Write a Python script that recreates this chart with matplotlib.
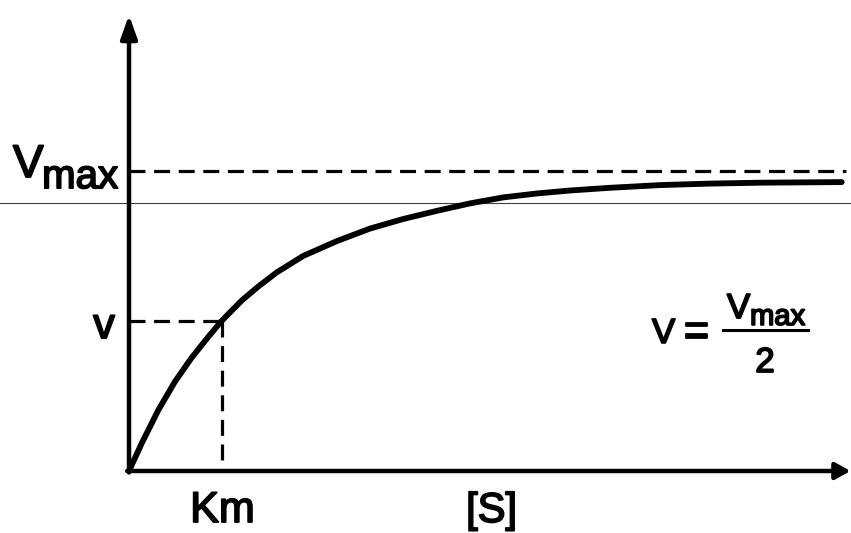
import matplotlib.pyplot as plt
from matplotlib import patheffects

# Substrate concentration (in units of Km) and reaction velocity (in units of Vmax)
s_conc = [0.0, 0.137, 0.317, 0.497, 0.678, 0.857, 1.0, 1.218, 1.398, 1.597,
          1.884, 2.245, 2.605, 2.965, 3.326, 3.686, 4.046, 4.407, 4.768,
          5.200, 5.741, 6.281, 6.822, 7.705]
velocity = [0.0, 0.092, 0.203, 0.298, 0.378, 0.447, 0.5, 0.568, 0.615, 0.662,
            0.717, 0.766, 0.808, 0.840, 0.867, 0.892, 0.912, 0.925, 0.935,
            0.944, 0.953, 0.958, 0.961, 0.963]

v_max = 1.0
k_m = 1.0
v_half = v_max / 2

x_end = 7.80
y_end = 1.52

plt.rcParams['font.family'] = ['Liberation Sans', 'DejaVu Sans']
thick = [patheffects.withStroke(linewidth=1.3, foreground='black')]

fig = plt.figure(figsize=(8.51, 5.33), dpi=100)
ax = fig.add_axes([0, 0, 1, 1])
ax.set_xlim(-1.3946, 7.8054)
ax.set_ylim(-0.2067, 1.57)
ax.axis('off')

# faint guide line running across the page
ax.axhline(0.892, color='0.25', lw=0.8, zorder=1)

# axes with arrow heads
ax.annotate('', xy=(0, y_end), xytext=(0, -0.005),
            arrowprops=dict(arrowstyle='-|>,head_length=14,head_width=5',
                            mutation_scale=1, lw=3.2, color='black',
                            shrinkA=0, shrinkB=0))
ax.annotate('', xy=(x_end, 0), xytext=(-0.02, 0),
            arrowprops=dict(arrowstyle='-|>,head_length=9,head_width=5',
                            mutation_scale=1, lw=3.2, color='black',
                            shrinkA=0, shrinkB=0))

# reference dashed lines
dash = dict(color='black', lw=2.3, dashes=(5, 2.7), zorder=2)
ax.plot([0, x_end - 0.05], [v_max, v_max], **dash)
ax.plot([0, k_m], [v_half, v_half], **dash)
ax.plot([k_m, k_m], [v_half, 0], **dash)

# saturation curve
ax.plot(s_conc, velocity, color='black', lw=4.2, solid_capstyle='round',
        solid_joinstyle='round', zorder=3)

# labels
ax.text(-1.254, v_max - 0.02, 'V', fontsize=33, ha='left', va='baseline',
        path_effects=thick)
ax.text(-0.94, v_max - 0.057, 'max', fontsize=29, ha='left', va='baseline',
        path_effects=thick)
ax.text(-0.27, v_half - 0.057, 'v', fontsize=31, ha='center', va='baseline',
        path_effects=thick)
ax.text(k_m + 0.01, -0.17, 'Km', fontsize=31, ha='center', va='baseline',
        path_effects=thick)
ax.text(3.92, -0.17, '[S]', fontsize=30, ha='center', va='baseline',
        path_effects=thick)

# V = Vmax / 2
ax.text(5.654, 0.427, 'V', fontsize=25, ha='left', va='baseline',
        path_effects=thick)
ax.text(6.135, 0.42, '=', fontsize=32, ha='center', va='baseline',
        path_effects=thick)
ax.plot([6.422, 7.341], [0.47, 0.47], color='black', lw=2.2)
ax.text(6.465, 0.51, 'V', fontsize=25, ha='left', va='baseline',
        path_effects=thick)
ax.text(6.714, 0.487, 'max', fontsize=21, ha='left', va='baseline',
        path_effects=thick)
ax.text(6.876, 0.33, '2', fontsize=25, ha='center', va='baseline',
        path_effects=thick)

fig.savefig('out.png', dpi=100)
